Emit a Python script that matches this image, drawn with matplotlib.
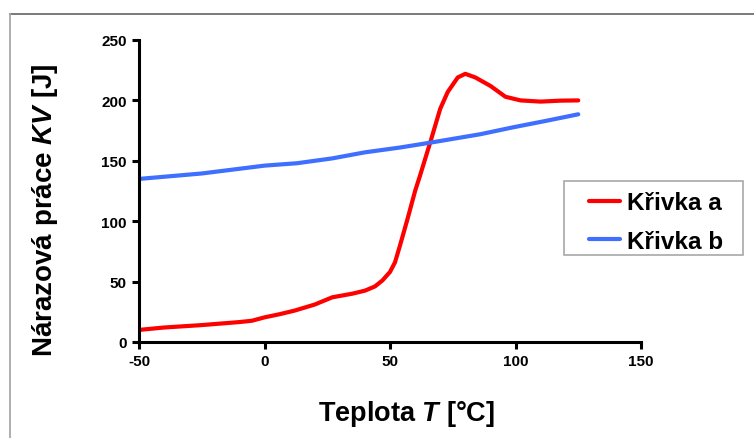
import matplotlib.pyplot as plt
from matplotlib.lines import Line2D
from matplotlib.patches import Rectangle

plt.rcParams['font.family'] = ['Liberation Sans', 'DejaVu Sans']
plt.rcParams['font.weight'] = 'bold'
plt.rcParams['axes.unicode_minus'] = False
plt.rcParams['mathtext.fontset'] = 'custom'
plt.rcParams['mathtext.rm'] = 'Liberation Sans:bold'
plt.rcParams['mathtext.it'] = 'Liberation Sans:bold:italic'

# curve a (red)
temp_a = [-50, -40, -25, -10, -5, 0, 6, 12, 20, 27, 35, 40, 44, 47, 50, 52, 54,
          57, 60, 62, 66, 70, 73, 77, 80, 84, 90, 96, 102, 110, 118, 125]
kv_a = [10, 12, 14, 16.5, 17.6, 20.4, 23, 26, 31, 37, 40, 42.5, 46, 51, 58, 66, 80,
        102, 125, 138, 165, 193, 207, 219, 222, 219, 212, 203, 200, 199, 199.8, 200]

# curve b (blue)
temp_b = [-50, -25, 0, 13, 27, 40, 54, 66, 86, 99, 112, 125]
kv_b = [135, 139.5, 146, 148, 152, 157, 161, 165, 172, 177.7, 183, 188.5]

x_ticks = [-50, 0, 50, 100, 150]
y_ticks = [0, 50, 100, 150, 200, 250]

fig = plt.figure(figsize=(7.54, 4.39), dpi=100)
ax = fig.add_axes([139 / 754, 1 - 343 / 439, (641 - 139) / 754, (343 - 41) / 439])

ax.plot(temp_a, kv_a, color='#ff0000', lw=3, solid_joinstyle='round',
        solid_capstyle='round', label='Křivka a')
ax.plot(temp_b, kv_b, color='#3f6fff', lw=3, solid_joinstyle='round',
        solid_capstyle='round', label='Křivka b')

ax.set_xlim(-50, 150)
ax.set_ylim(0, 250)
ax.set_xticks(x_ticks)
ax.set_yticks(y_ticks)
ax.tick_params(direction='out', length=5, width=2.2, labelsize=11, pad=4)
for lab in ax.get_xticklabels() + ax.get_yticklabels():
    lab.set_fontweight('bold')
for s in ['top', 'right']:
    ax.spines[s].set_visible(False)
for s in ['left', 'bottom']:
    ax.spines[s].set_linewidth(2.2)

fig.text(407 / 754, 1 - 414 / 439, 'Teplota $T$ [°C]', ha='center', va='center',
         fontsize=19.5, fontweight='bold')
fig.text(45 / 754, 1 - 210 / 439, 'Nárazová práce $KV$ [J]', ha='center', va='center',
         rotation=90, fontsize=20, fontweight='bold')

# legend box drawn by hand so padding matches
ax.add_patch(Rectangle((564 / 754, 1 - 256 / 439), (743 - 564) / 754, (256 - 182) / 439,
                       transform=fig.transFigure, facecolor='white', clip_on=False,
                       edgecolor='#a8a8a8', lw=1.2, zorder=5))
leg = ax.legend(loc='center left', bbox_to_anchor=(589 / 754, 1 - 223 / 439),
                bbox_transform=fig.transFigure, fontsize=17.5, frameon=False,
                handlelength=1.28, handletextpad=0.3, borderpad=0,
                labelspacing=0.65, borderaxespad=0)
leg.set_zorder(6)
for t in leg.get_texts():
    t.set_fontweight('bold')

# outer frame (only top and left visible)
fig.add_artist(Line2D([10 / 754, 1.0], [1 - 15 / 439, 1 - 15 / 439],
                      transform=fig.transFigure, color='#707070', lw=1.3))
fig.add_artist(Line2D([10 / 754, 10 / 754], [0.0, 1 - 15 / 439],
                      transform=fig.transFigure, color='#a8a8a8', lw=1.3))

fig.savefig('out.png', dpi=100)
